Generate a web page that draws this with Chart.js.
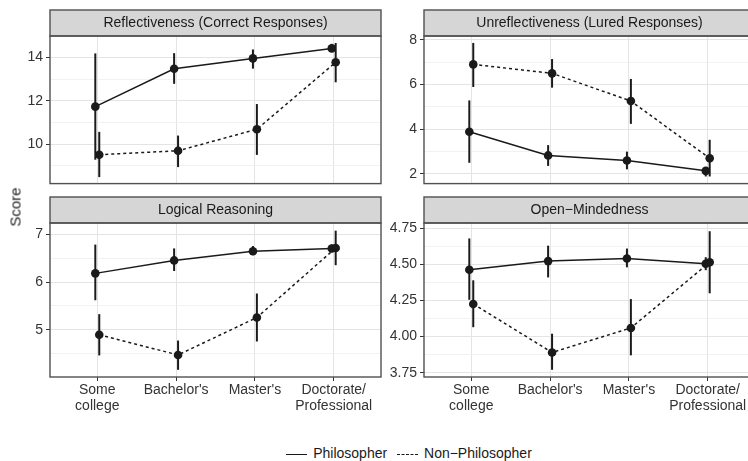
<!DOCTYPE html>
<html>
<head>
<meta charset="utf-8">
<script src="https://cdn.jsdelivr.net/npm/chart.js@4.4.1/dist/chart.umd.min.js"></script>
<style>
html, body { margin: 0; padding: 0; background: #fff; overflow: hidden; width: 748px; height: 461px; }
#wrap { position: relative; width: 760px; height: 461px; font-family: "Liberation Sans", Arial, sans-serif; color: #1a1a1a; }
canvas { position: absolute; }
#ytitle { position: absolute; left: 15px; top: 207px; transform: translate(-50%, -50%) rotate(-90deg); font-size: 15px; font-weight: normal; color: #222; white-space: nowrap; }
#legend { position: absolute; left: 0; width: 818px; top: 445px; text-align: center; font-size: 14px; white-space: nowrap; }
#legend span.key { display: inline-block; width: 21px; height: 0; vertical-align: middle; margin: 0 6px 0 0; }
#legend span.item { margin: 0 3px; }
</style>
</head>
<body>
<div id="wrap">
  <canvas id="c1" width="390" height="195" style="left:0;top:0"></canvas>
  <canvas id="c2" width="390" height="195" style="left:374px;top:0"></canvas>
  <canvas id="c3" width="390" height="232" style="left:0;top:190px"></canvas>
  <canvas id="c4" width="390" height="232" style="left:374px;top:190px"></canvas>
  <div id="ytitle">Score</div>
  <div id="legend">
    <span class="item"><span class="key" style="border-top:1.6px solid #1a1a1a"></span>Philosopher</span>
    <span class="item"><span class="key" style="border-top:1.6px dashed #1a1a1a"></span>Non−Philosopher</span>
  </div>
</div>
<script>
// education levels on the x axis
const levels = [['Some', 'college'], "Bachelor's", "Master's", ['Doctorate/', 'Professional']];

// Reflectiveness (Correct Responses)
const reflPhil   = [11.73, 13.47, 13.95, 14.41];
const reflPhilLo = [9.29, 12.78, 13.48, 14.24];
const reflPhilHi = [14.18, 14.19, 14.36, 14.62];
const reflNon    = [9.52, 9.70, 10.69, 13.77];
const reflNonLo  = [8.49, 8.95, 9.51, 12.85];
const reflNonHi  = [10.57, 10.40, 11.85, 14.66];
const reflTicks  = [10, 12, 14];
const reflMinor  = [9, 11, 13];

// Unreflectiveness (Lured Responses)
const unrPhil   = [3.89, 2.83, 2.60, 2.14];
const unrPhilLo = [2.50, 2.36, 2.21, 1.89];
const unrPhilHi = [5.29, 3.29, 3.00, 2.29];
const unrNon    = [6.90, 6.50, 5.26, 2.70];
const unrNonLo  = [5.89, 5.86, 4.24, 1.89];
const unrNonHi  = [7.86, 7.14, 6.25, 3.53];
const unrTicks  = [2, 4, 6, 8];
const unrMinor  = [3, 5, 7];

// Logical Reasoning
const logPhil   = [6.18, 6.45, 6.64, 6.70];
const logPhilLo = [5.62, 6.23, 6.56, 6.62];
const logPhilHi = [6.78, 6.70, 6.75, 6.78];
const logNon    = [4.90, 4.48, 5.26, 6.71];
const logNonLo  = [4.47, 4.17, 4.76, 6.35];
const logNonHi  = [5.33, 4.78, 5.76, 7.07];
const logTicks  = [5, 6, 7];
const logMinor  = [4.5, 5.5, 6.5];

// Open-Mindedness
const omPhil   = [4.463, 4.523, 4.541, 4.505];
const omPhilLo = [4.255, 4.41, 4.48, 4.46];
const omPhilHi = [4.68, 4.63, 4.61, 4.55];
const omNon    = [4.226, 3.89, 4.06, 4.515];
const omNonLo  = [4.065, 3.77, 3.87, 4.30];
const omNonHi  = [4.39, 4.02, 4.26, 4.73];
const omTicks  = [3.75, 4.00, 4.25, 4.50, 4.75];
const omMinor  = [3.875, 4.125, 4.375, 4.625];

const FONT = '"Liberation Sans", Arial, sans-serif';
const INK = '#1a1a1a';
const DODGE = 0.025;

// grey strip on top + dark frame around the panel
const facetFrame = {
  id: 'facetFrame',
  afterDraw(chart, args, opts) {
    const { ctx, chartArea: a } = chart;
    ctx.save();
    ctx.fillStyle = '#d6d6d6';
    ctx.fillRect(a.left, a.top - 26, a.right - a.left, 26);
    ctx.strokeStyle = '#505050';
    ctx.lineWidth = 1.4;
    ctx.strokeRect(a.left, a.top - 26, a.right - a.left, 26);
    ctx.strokeRect(a.left, a.top, a.right - a.left, a.bottom - a.top);
    ctx.fillStyle = INK;
    ctx.font = '14px ' + FONT;
    ctx.textAlign = 'center';
    ctx.textBaseline = 'middle';
    ctx.fillText(opts.title, (a.left + a.right) / 2, a.top - 12.5);
    ctx.restore();
  }
};

// vertical error bars drawn under the points
const errorBars = {
  id: 'errorBars',
  beforeDatasetsDraw(chart) {
    const { ctx } = chart;
    const xs = chart.scales.x, ys = chart.scales.y;
    ctx.save();
    ctx.strokeStyle = INK;
    ctx.lineWidth = 2;
    chart.data.datasets.forEach(ds => {
      ds.data.forEach((p, i) => {
        const x = xs.getPixelForValue(p.x);
        ctx.beginPath();
        ctx.moveTo(x, ys.getPixelForValue(ds.lo[i]));
        ctx.lineTo(x, ys.getPixelForValue(ds.hi[i]));
        ctx.stroke();
      });
    });
    ctx.restore();
  }
};

function panel(id, title, phil, philLo, philHi, non, nonLo, nonHi, yMin, yMax, major, minor, digits, bottom) {
  const pts = (arr, off) => arr.map((v, i) => ({ x: i + off, y: v }));
  const isMajor = v => major.some(m => Math.abs(m - v) < 1e-6);
  new Chart(document.getElementById(id), {
    type: 'line',
    data: {
      datasets: [
        { label: 'Philosopher', data: pts(phil, -DODGE), lo: philLo, hi: philHi,
          borderColor: INK, backgroundColor: INK, borderWidth: 1.5,
          pointRadius: 4.3, pointBackgroundColor: INK, pointBorderWidth: 0 },
        { label: 'Non-Philosopher', data: pts(non, DODGE), lo: nonLo, hi: nonHi,
          borderColor: INK, backgroundColor: INK, borderWidth: 1.5, borderDash: [3, 3],
          pointRadius: 4.3, pointBackgroundColor: INK, pointBorderWidth: 0 }
      ]
    },
    options: {
      responsive: false,
      animation: false,
      layout: { padding: { top: bottom ? 33 : 36, right: 9, bottom: bottom ? 0 : 5, left: 0 } },
      plugins: { legend: { display: false }, tooltip: { enabled: false }, facetFrame: { title } },
      scales: {
        x: {
          type: 'linear', min: -0.6, max: 3.6,
          afterBuildTicks: s => { s.ticks = levels.map((l, i) => ({ value: i })); },
          afterFit: s => { s.height = bottom ? 45 : 0; },
          border: { display: false },
          grid: { color: '#e4e4e4', lineWidth: 1, drawTicks: bottom, tickLength: 4, tickColor: '#333' },
          ticks: {
            display: bottom, autoSkip: false, maxRotation: 0, padding: 1,
            color: '#333', font: { family: FONT, size: 14, lineHeight: 1.15 },
            callback: v => levels[Math.round(v)]
          }
        },
        y: {
          min: yMin, max: yMax,
          afterBuildTicks: s => { s.ticks = major.concat(minor).sort((a, b) => a - b).map(v => ({ value: v })); },
          afterFit: s => { s.width = 50; },
          border: { display: false },
          grid: {
            color: c => isMajor(c.tick.value) ? '#e4e4e4' : '#efefef',
            lineWidth: c => isMajor(c.tick.value) ? 1 : 0.8,
            tickLength: 4,
            tickColor: c => isMajor(c.tick.value) ? '#333' : 'rgba(0,0,0,0)'
          },
          ticks: {
            autoSkip: false, padding: 3, color: '#333', font: { family: FONT, size: 14 },
            callback: v => isMajor(v) ? v.toFixed(digits) : ''
          }
        }
      }
    },
    plugins: [errorBars, facetFrame]
  });
}

panel('c1', 'Reflectiveness (Correct Responses)', reflPhil, reflPhilLo, reflPhilHi, reflNon, reflNonLo, reflNonHi,
      8.19, 14.98, reflTicks, reflMinor, 0, false);
panel('c2', 'Unreflectiveness (Lured Responses)', unrPhil, unrPhilLo, unrPhilHi, unrNon, unrNonLo, unrNonHi,
      1.57, 8.17, unrTicks, unrMinor, 0, false);
panel('c3', 'Logical Reasoning', logPhil, logPhilLo, logPhilHi, logNon, logNonLo, logNonHi,
      4.02, 7.23, logTicks, logMinor, 0, true);
panel('c4', 'Open−Mindedness', omPhil, omPhilLo, omPhilHi, omNon, omNonLo, omNonHi,
      3.72, 4.787, omTicks, omMinor, 2, true);
</script>
</body>
</html>
